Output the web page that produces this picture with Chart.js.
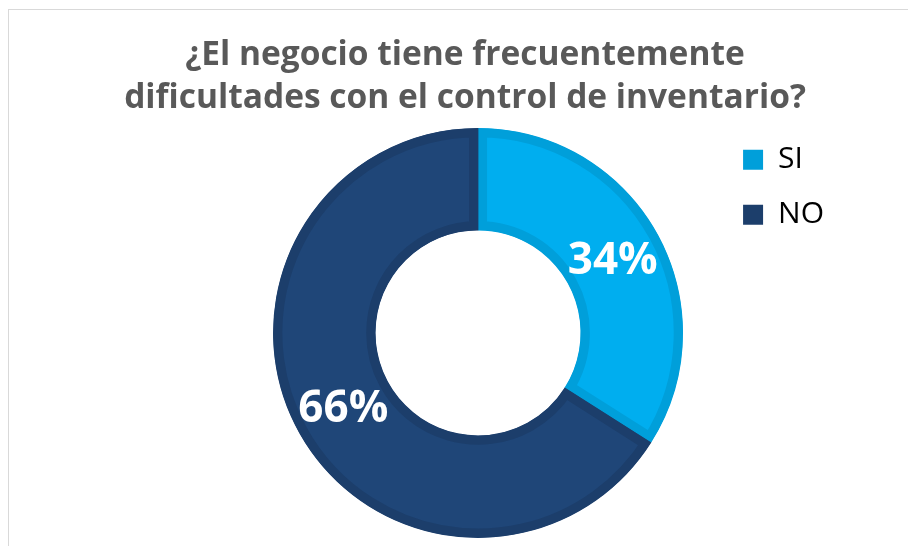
<!DOCTYPE html>
<html lang="es">
<head>
  <meta charset="UTF-8" />
  <title>Control de inventario</title>
  <script src="https://cdn.jsdelivr.net/npm/chart.js"></script>
  <style>
    html, body { margin: 0; padding: 0; background: #fff; }
    .frame { position: absolute; left: 8px; top: 9px; width: 920px; height: 560px; border-left: 1px solid #d9d9d9; border-top: 1px solid #d9d9d9; }
    .wrap { position: absolute; left: 0; top: 0; width: 908px; height: 546px; }
  </style>
</head>
<body>
  <div class="frame"></div>
  <div class="wrap"><canvas id="donut" width="908" height="546"></canvas></div>

  <script>
    // datos
    const categorias = ['SI', 'NO'];
    const porcentajes = [34, 66];
    const titulo = ['¿El negocio tiene frecuentemente', 'dificultades con el control de inventario?'];
    const relleno = ['#00AEEF', '#1F4678'];
    const borde = ['#009FDA', '#1C3E6B'];

    // etiquetas blancas dentro de cada sector
    const etiquetas = {
      id: 'etiquetas',
      afterDatasetsDraw(chart) {
        const ctx = chart.ctx;
        const meta = chart.getDatasetMeta(0);
        ctx.save();
        ctx.fillStyle = '#ffffff';
        ctx.font = 'bold 44px "Open Sans"';
        ctx.textAlign = 'center';
        ctx.textBaseline = 'middle';
        meta.data.forEach((arc, i) => {
          const p = arc.tooltipPosition();
          ctx.fillText(porcentajes[i] + '%', p.x, p.y + 3);
        });
        ctx.restore();
      }
    };

    // el titulo va centrado en todo el ancho, no solo en el area con padding
    const tituloCentrado = {
      id: 'tituloCentrado',
      afterLayout(chart) {
        const t = chart.titleBlock;
        if (t) { t.left = 0; t.right = 930; t.width = 930; }
      }
    };

    new Chart(document.getElementById('donut'), {
      type: 'doughnut',
      data: {
        labels: categorias,
        datasets: [{
          data: porcentajes,
          backgroundColor: relleno,
          borderColor: borde,
          borderWidth: 9,
          borderAlign: 'inner',
          borderJoinStyle: 'miter'
        }]
      },
      options: {
        responsive: false,
        animation: false,
        events: [],
        cutout: '50%',
        radius: 205,
        layout: { padding: { left: 238, right: 74, top: 0, bottom: 0 } },
        plugins: {
          title: {
            display: true,
            text: titulo,
            color: '#595959',
            font: { family: '"Open Sans"', size: 33.5, weight: 'bold', lineHeight: 1.28 },
            padding: { top: 34, bottom: 0 }
          },
          legend: {
            position: 'right',
            align: 'start',
            fullSize: false,
            labels: {
              color: '#595959',
              font: { family: '"Open Sans"', size: 30 },
              boxWidth: 20,
              boxHeight: 20,
              padding: 25,
              generateLabels(chart) {
                return chart.data.labels.map((l, i) => ({
                  text: l,
                  fillStyle: borde[i],
                  strokeStyle: borde[i],
                  lineWidth: 0,
                  index: i
                }));
              }
            }
          },
          tooltip: { enabled: false }
        }
      },
      plugins: [etiquetas, tituloCentrado]
    });
  </script>
</body>
</html>
